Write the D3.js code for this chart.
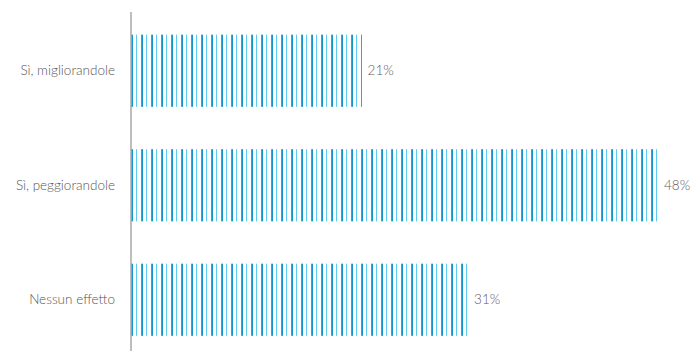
<!DOCTYPE html>
<html>
<head>
<meta charset="utf-8">
<script src="https://cdn.jsdelivr.net/npm/d3@7"></script>
<style>
  html, body { margin: 0; padding: 0; background: #fff; }
  svg { display: block; }
  text { font-family: Lato, "Open Sans", sans-serif; font-weight: 300; }
</style>
</head>
<body>
<svg id="chart" width="691" height="351"></svg>
<script>
const categories = ["Sì, migliorandole", "Sì, peggiorandole", "Nessun effetto"];
const values = [21.0, 48.0, 30.7];

const width = 691, height = 351;
const axisX = 131;

const svg = d3.select("#chart");

const x = d3.scaleLinear().domain([0, 48]).range([axisX, 658]);
const y = d3.scaleBand().domain(categories).range([13.5, 357]).paddingInner(0.37).paddingOuter(0.185);

const defs = svg.append("defs");
const pat = defs.append("pattern")
  .attr("id", "stripes")
  .attr("patternUnits", "userSpaceOnUse")
  .attr("x", axisX).attr("y", 0)
  .attr("width", 10).attr("height", 10);
pat.append("rect").attr("x", 0).attr("y", 0).attr("width", 10).attr("height", 10).attr("fill", "#fff");
pat.append("rect").attr("x", 0).attr("y", 0).attr("width", 1).attr("height", 10).attr("fill", "#2ba6df");
pat.append("rect").attr("x", 1).attr("y", 0).attr("width", 1).attr("height", 10).attr("fill", "#1593cf");
pat.append("rect").attr("x", 5).attr("y", 0).attr("width", 1).attr("height", 10).attr("fill", "#5ccbf2");

const data = categories.map((c, i) => ({ c, v: values[i] }));

svg.append("g").selectAll("rect")
  .data(data).join("rect")
  .attr("x", x(0))
  .attr("y", d => y(d.c))
  .attr("width", d => Math.ceil(x(d.v)) - x(0))
  .attr("height", y.bandwidth())
  .attr("fill", "url(#stripes)");

const fmt = d3.format(".0f");
svg.append("g").selectAll("text")
  .data(data).join("text")
  .attr("x", d => x(d.v) + 6)
  .attr("y", d => y(d.c) + y.bandwidth() / 2)
  .attr("dy", "0.35em")
  .attr("font-size", 13.5)
  .attr("fill", "#5e5e5e")
  .text(d => fmt(d.v) + "%");

// Category axis
const yAxis = svg.append("g")
  .attr("transform", `translate(${axisX},0)`)
  .call(d3.axisLeft(y).tickSize(0).tickPadding(16));
yAxis.select(".domain").remove();
yAxis.selectAll("text")
  .attr("font-size", 13.5)
  .attr("font-family", "Lato, 'Open Sans', sans-serif")
  .attr("font-weight", 300)
  .attr("fill", "#555");

svg.append("line")
  .attr("x1", axisX).attr("x2", axisX)
  .attr("y1", 12).attr("y2", height)
  .attr("stroke", "#a8a8a8")
  .attr("stroke-width", 1.5);
</script>
</body>
</html>
